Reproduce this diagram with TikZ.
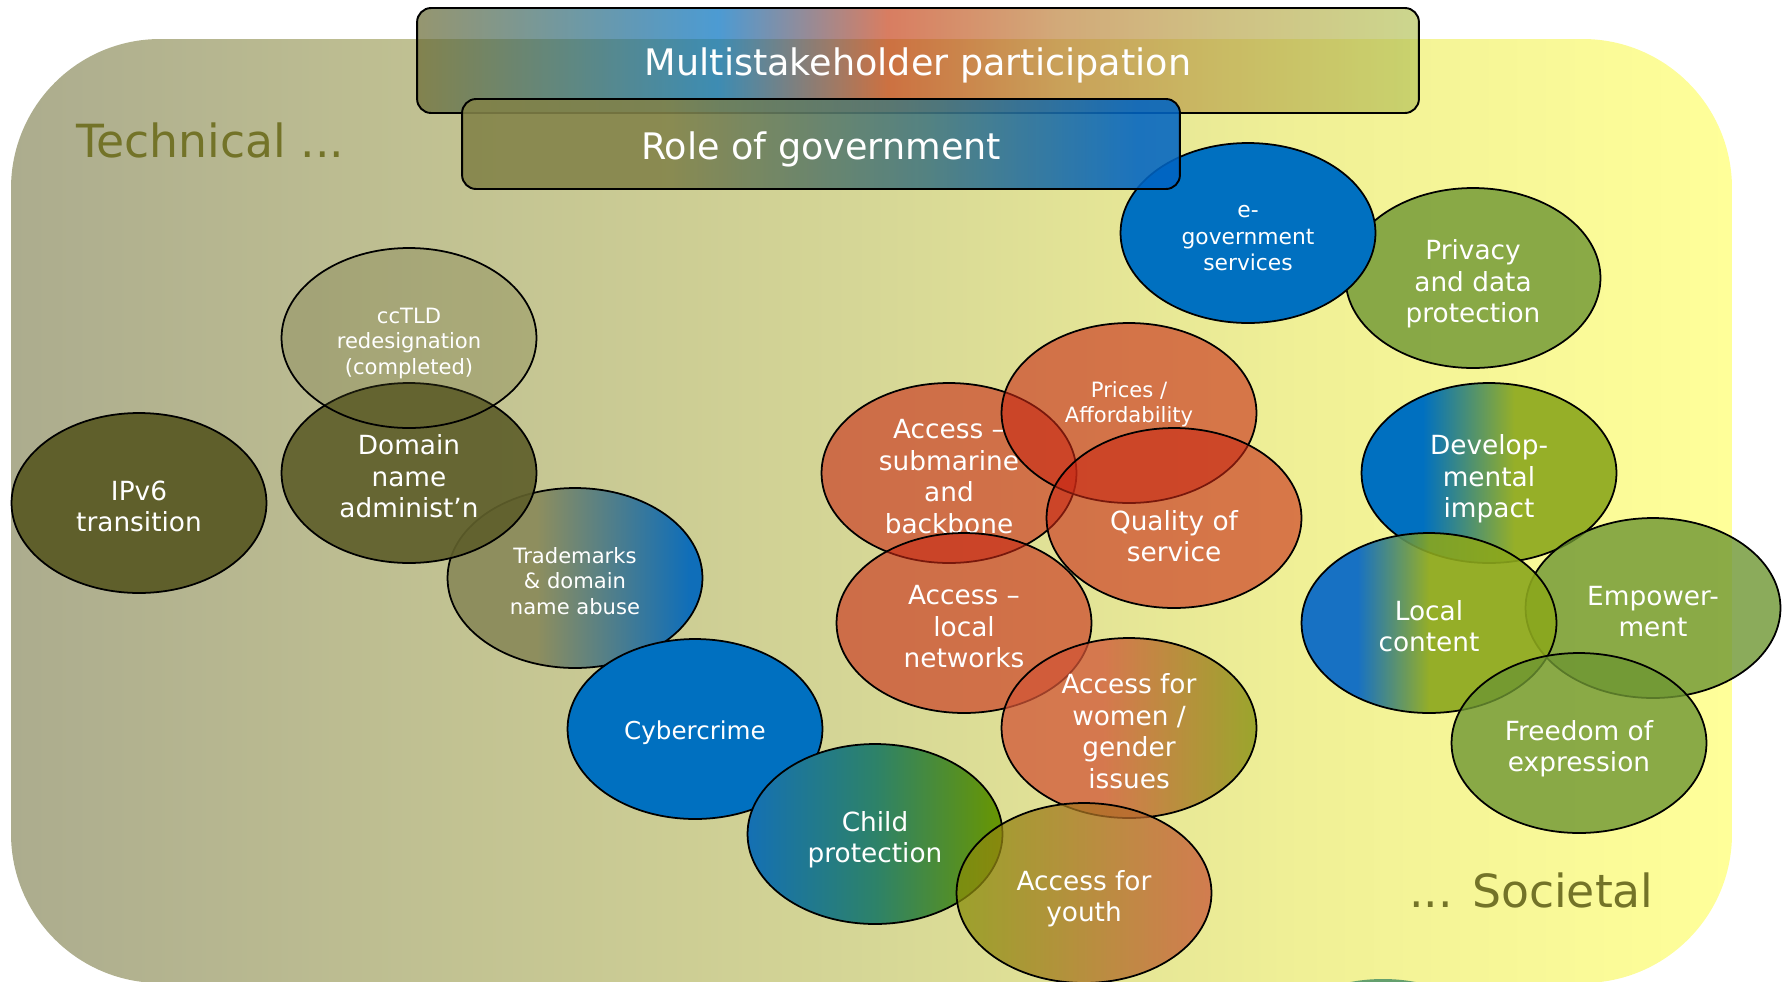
\documentclass[tikz,border=0pt]{standalone}
\usepackage{fontspec}
\setmainfont{DejaVu Sans}
\usepackage{tikz}
\usetikzlibrary{shapes.geometric}

% colours
\definecolor{olivedk}{RGB}{95,95,43}
\definecolor{blueC}{RGB}{0,112,192}
\definecolor{orangeC}{RGB}{200,40,20}
\definecolor{greenC}{RGB}{110,150,50}
\definecolor{labelolive}{RGB}{115,115,40}
\definecolor{bottomgreen}{RGB}{100,160,110}
% background
\definecolor{bgA}{RGB}{172,172,142}
\definecolor{bgB}{RGB}{214,215,150}
\definecolor{bgC}{RGB}{240,240,150}
\definecolor{bgD}{RGB}{255,255,153}
\pgfdeclarehorizontalshading{bgshade}{100bp}{color(0bp)=(bgA); color(25bp)=(bgA); color(50bp)=(bgB); color(62.5bp)=(bgC); color(75bp)=(bgD); color(100bp)=(bgD)}
% multistakeholder bar
\definecolor{msOlive}{RGB}{105,105,50}
\definecolor{msRed}{RGB}{200,70,30}
\definecolor{msTan}{RGB}{191,133,64}
\definecolor{msSand}{RGB}{187,166,79}
\definecolor{msLime}{RGB}{183,197,93}
\pgfdeclarehorizontalshading{stakeshade}{100bp}{color(0bp)=(msOlive); color(25bp)=(msOlive); color(40bp)=(blueC); color(48.5bp)=(msRed); color(57bp)=(msTan); color(65bp)=(msSand); color(75bp)=(msLime); color(100bp)=(msLime)}
% government bar
\definecolor{rgOlive}{RGB}{130,130,72}
\definecolor{rgTeal}{RGB}{65,118,128}
\definecolor{rgBlue}{RGB}{0,100,195}
\pgfdeclarehorizontalshading{govshade}{100bp}{color(0bp)=(rgOlive); color(39bp)=(rgOlive); color(57.5bp)=(rgTeal); color(72bp)=(rgBlue); color(100bp)=(rgBlue)}
% bubbles with gradients
\definecolor{tmA}{RGB}{142,142,94}
\definecolor{tmB}{RGB}{15,110,185}
\pgfdeclarehorizontalshading{tmshade}{100bp}{color(0bp)=(tmA); color(42.5bp)=(tmA); color(72.5bp)=(tmB); color(100bp)=(tmB)}
\definecolor{chA}{RGB}{20,112,180}
\definecolor{chB}{RGB}{45,130,105}
\definecolor{chC}{RGB}{105,150,0}
\pgfdeclarehorizontalshading{childshade}{100bp}{color(0bp)=(chA); color(25bp)=(chA); color(50bp)=(chB); color(75bp)=(chC); color(100bp)=(chC)}
\definecolor{yoA}{RGB}{135,142,10}
\definecolor{yoB}{RGB}{202,88,57}
\pgfdeclarehorizontalshading{youthshade}{100bp}{color(0bp)=(yoA); color(25bp)=(yoA); color(75bp)=(yoB); color(100bp)=(yoB)}
\definecolor{woA}{RGB}{209,85,54}
\definecolor{woB}{RGB}{128,142,10}
\pgfdeclarehorizontalshading{womenshade}{100bp}{color(0bp)=(woA); color(45bp)=(woA); color(75bp)=(woB); color(100bp)=(woB)}
\definecolor{dvB}{RGB}{150,175,40}
\pgfdeclarehorizontalshading{devshade}{100bp}{color(0bp)=(blueC); color(37bp)=(blueC); color(55bp)=(dvB); color(100bp)=(dvB)}
\definecolor{lcA}{RGB}{0,100,200}
\definecolor{lcB}{RGB}{139,167,28}
\pgfdeclarehorizontalshading{localshade}{100bp}{color(0bp)=(lcA); color(36bp)=(lcA); color(50bp)=(lcB); color(100bp)=(lcB)}

\newcommand{\bubfont}{\fontsize{15pt}{18pt}\selectfont}
\newcommand{\smallbubfont}{\fontsize{12pt}{14.5pt}\selectfont}
\newcommand{\barfont}{\fontsize{20.8pt}{25pt}\selectfont}
\newcommand{\sidefont}{\fontsize{26pt}{31pt}\selectfont}

\tikzset{
  bub/.style={ellipse, draw=black, line width=1pt, minimum width=5.1cm, minimum height=3.6cm, inner sep=0pt, text=white, text opacity=1, align=center, font=\bubfont, text depth=0pt},
  bubtext/.style={text=white, align=center, font=\bubfont, inner sep=0pt, text depth=0pt},
  twoline/.style={text height=32.8pt},
  threeline/.style={text height=50.8pt},
  fourline/.style={text height=68.8pt},
  olivebub/.style={bub, fill=olivedk},
  bluebub/.style={bub, fill=blueC},
  orangebub/.style={bub, fill=orangeC, fill opacity=0.6},
  greenbub/.style={bub, fill=greenC, fill opacity=0.8},
  bar/.style={rectangle, rounded corners=8pt, draw=black, line width=1.1pt, inner sep=0pt, text=white, text opacity=1, font=\barfont, text height=17.5pt, text depth=0pt},
  sidelabel/.style={text=labelolive, font=\sidefont, inner sep=0pt}
}

\begin{document}
\begin{tikzpicture}[x=0.02cm, y=-0.02cm]
    \useasboundingbox (0,0) rectangle (1785,981);
    \shade[shading=bgshade, rounded corners=85pt] (11,39) rectangle (1732,983);%draws the background
    \node (offpage) [ellipse, fill=bottomgreen, minimum width=5.1cm, minimum height=3.6cm] at (1383,1069) {};%bubble below the edge
    % technical side
    \node (ipv6) [olivebub, twoline] at (139,503) {IPv6\\transition};%draws IPv6
    \node (trade) [bub, shade, shading=tmshade, font=\smallbubfont, text height=41.5pt] at (575,578) {Trademarks\\\& domain\\name abuse};%draws trademarks
    \node (domain) [olivebub, threeline, fill opacity=0.92] at (409,473) {Domain\\name\\administ’n};%draws domain names
    \node (cctld) [bub, fill=olivedk, fill opacity=0.25, font=\smallbubfont, text height=41.5pt] at (409,338) {ccTLD\\redesignation\\(completed)};%draws ccTLD
    \node (cyber) [bluebub, font=\fontsize{14pt}{17pt}\selectfont, text height=11.8pt] at (695,729) {Cybercrime};%draws cybercrime
    \node (child) [bub, twoline, shade, shading=childshade] at (875,834) {Child\\protection};%draws child protection
    % access cluster
    \node (submarine) [orangebub, fourline] at (949,473) {Access –\\submarine\\and\\backbone};%draws submarine access
    \node (prices) [orangebub] at (1129,413) {};%draws prices
    \node (pricestext) [bubtext, font=\smallbubfont] at ([yshift=6.2pt]prices.center) {Prices /\\Affordability};
    \node (quality) [orangebub] at (1174,518) {};%draws quality
    \node (qualitytext) [bubtext] at ([yshift=-10.3pt]quality.center) {Quality of\\service};
    \node (localnet) [orangebub, threeline] at (964,623) {Access –\\local\\networks};%draws local networks
    \node (women) [bub, fourline, shade, shading=womenshade, fill opacity=0.75] at (1129,728) {Access for\\women /\\gender\\issues};%draws women
    \node (youth) [bub, twoline, shade, shading=youthshade, fill opacity=0.75] at (1084,893) {Access for\\youth};%draws youth
    % societal side
    \node (privacy) [greenbub, threeline] at (1473,278) {Privacy\\and data\\protection};%draws privacy
    \node (egov) [bluebub, font=\fontsize{12.4pt}{15pt}\selectfont, text height=42.8pt] at (1248,233) {e-\\government\\services};%draws e-government
    \node (develop) [bub, threeline, shade, shading=devshade] at (1489,473) {Develop-\\mental\\impact};%draws development
    \node (empower) [greenbub, twoline] at (1653,608) {Empower-\\ment};%draws empowerment
    \node (localcont) [bub, twoline, shade, shading=localshade, fill opacity=0.9] at (1429,623) {Local\\content};%draws local content
    \node (freedom) [greenbub, twoline] at (1579,743) {Freedom of\\expression};%draws freedom
    % bars on top
    \node (multi) [bar, shade, shading=stakeshade, fill opacity=0.7, minimum width=20.04cm, minimum height=2.1cm] at (918,60.5) {Multistakeholder participation};%draws top bar
    \node (gov) [bar, shade, shading=govshade, fill opacity=0.88, minimum width=14.36cm, minimum height=1.8cm] at (821,144) {Role of government};%draws government bar
    \node (tech) [sidelabel, anchor=base west] at (76,157) {Technical ...};
    \node (soc) [sidelabel, anchor=base east] at (1654,907) {... Societal};
\end{tikzpicture}
\end{document}
